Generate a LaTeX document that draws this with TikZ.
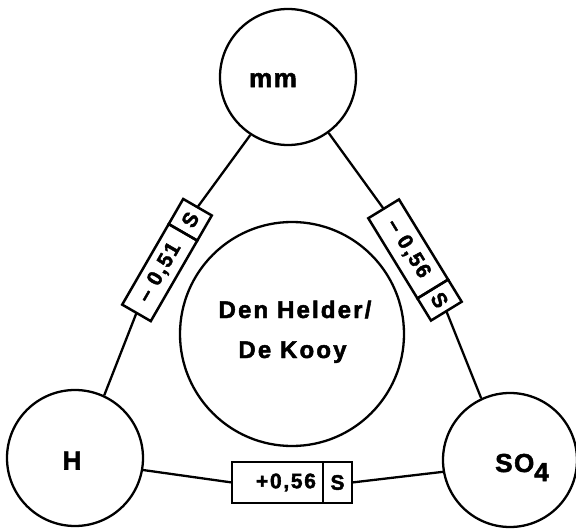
\documentclass[tikz,border=0pt]{standalone}
\usepackage{fontspec}
\setmainfont{Liberation Sans}
\newcommand\boxfont{\fontsize{21}{21}\selectfont\bfseries\addfontfeature{LetterSpace=8,FakeBold=2}}
\newcommand\circfont{\fontsize{26}{26}\selectfont\bfseries\addfontfeature{LetterSpace=6,FakeBold=2}}
\newcommand\dhfont{\fontsize{24}{24}\selectfont\bfseries\addfontfeature{LetterSpace=9,FakeBold=2}}
\begin{document}
\begin{tikzpicture}[x=1pt,y=-1pt,
  every node/.style={inner sep=0pt},
  ring/.style={draw,circle,line width=2.3pt},
  cell/.style={draw,rectangle,line width=2.5pt,outer sep=0pt,font=\boxfont},
  conn/.style={line width=2.3pt}]
\useasboundingbox (0,0) rectangle (576,530);
% circles
\node[ring,minimum size=136pt] (mm) at (288,77) {};
\node[ring,minimum size=136pt] (H) at (75,458) {};
\node[ring,minimum size=134pt] (SO4) at (510,460) {};
\node[ring,minimum size=224pt] (DH) at (292,334) {};
% labels
\node[font=\circfont,anchor=base] (mmlab) at (273,87) {mm};
\node[font=\circfont,anchor=base] (Hlab) at (72,469.5) {H};
\node[font=\circfont,anchor=base west] (SOlab) at (495,472) {SO\raisebox{-9pt}{4}};
\node[font=\dhfont,anchor=base] (dh1) at (295,318) {Den Helder/};
\node[font=\dhfont,anchor=base] (dh2) at (292.5,358) {De Kooy};
% boxes
\node[cell,rotate=60,minimum width=93pt,minimum height=33pt] (bL) at (159.75,272.6) {– 0,51};
\node[cell,rotate=60,minimum width=29pt,minimum height=33pt,anchor=west] (sL) at (bL.east) {S};
\node[cell,rotate=-58.5,minimum width=94pt,minimum height=36pt] (bR) at (408.2,248.9) {– 0,56};
\node[cell,rotate=-58.5,minimum width=26pt,minimum height=36pt,anchor=west] (sR) at (bR.east) {S};
\node[cell,minimum width=91pt,minimum height=41pt] (bB) at (277.5,482.5) {\hspace*{17pt}+0,56};
\node[cell,minimum width=29pt,minimum height=41pt,anchor=west] (sB) at (bB.east) {S};
% connectors
\draw[conn] (mm.237) -- (sL.east);
\draw[conn] (bL.west) -- (H.65);
\draw[conn] (mm.306) -- (bR.west);
\draw[conn] (sR.east) -- (SO4.115);
\draw[conn] (H.-10) -- (bB.west);
\draw[conn] (sB.east) -- (SO4.190);
\end{tikzpicture}
\end{document}
